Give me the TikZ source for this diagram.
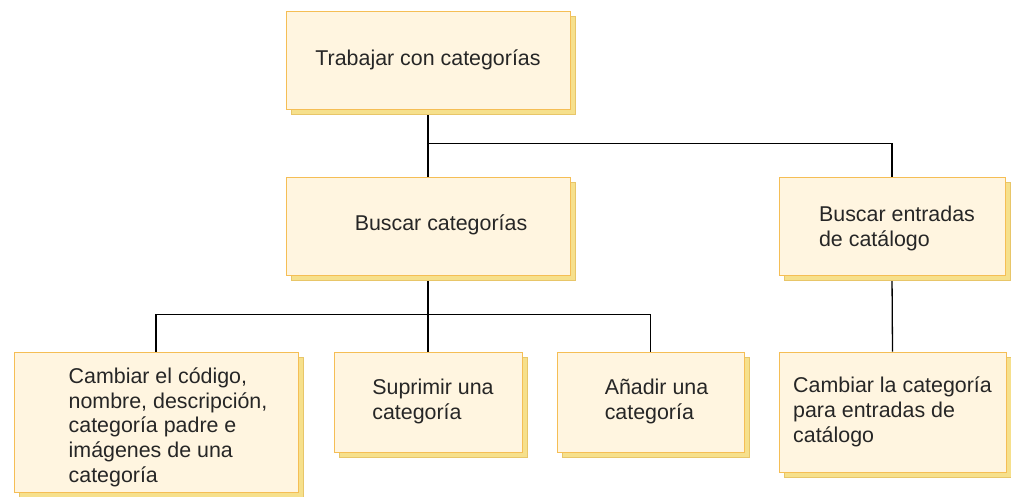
\documentclass[tikz,border=0pt]{standalone}
\usepackage{fontspec}
\setmainfont{Liberation Sans}
\usepackage{tikz}
\usetikzlibrary{shadows, backgrounds}
\definecolor{boxfill}{RGB}{255, 245, 224}
\definecolor{boxedge}{RGB}{245, 190, 85}
\definecolor{shadefill}{RGB}{246, 224, 140}
\definecolor{shadeedge}{RGB}{232, 198, 105}
\newcommand{\padleft}[3][0pt]{\raisebox{-#1}[\height][\depth]{\begin{tabular}{@{\hspace{#2}}l@{}}#3\end{tabular}}}

\begin{document}
\begin{tikzpicture}[
    x=1pt, y=-1pt,
    task/.style={rectangle, draw=boxedge, fill=boxfill, line width=1pt, minimum width=#1, align=left, inner sep=0pt,
      font=\fontsize{21.4}{24.7}\selectfont, text=black!85,
      copy shadow={shadow xshift=5pt, shadow yshift=-5pt, fill=shadefill, draw=shadeedge, line width=0.8pt}},
    task/.default=284pt,
    link/.style={draw=black, line width=1.3pt}
  ]
  \useasboundingbox (0,0) rectangle (1011,496);

  % Tasks
  \node[task, minimum height=98pt] (trabajar) at (428,60) {Trabajar con categorías};
  \node[task, minimum height=98pt] (buscar) at (428,226) {\padleft{26pt}{Buscar categorías}};
  \node[task=226pt, minimum height=98pt] (entradas) at (892,226) {\padleft[3pt]{10pt}{Buscar entradas\\de catálogo}};
  \node[task, minimum height=140pt] (cambiar) at (156,422) {\padleft[6pt]{24pt}{Cambiar el código,\\nombre, descripción,\\categoría padre e\\imágenes de una\\categoría}};
  \node[task=188pt, minimum height=100pt] (suprimir) at (428,402) {\padleft{10pt}{Suprimir una\\categoría}};
  \node[task=187pt, minimum height=100pt] (anadir) at (650.5,402) {\padleft{12pt}{Añadir una\\categoría}};
  \node[task=227pt, minimum height=120pt] (cambiarcat) at (892.5,412) {Cambiar la categoría\\para entradas de\\catálogo};

  % Links
  \begin{scope}[on background layer]
    \draw[link] (trabajar.south) -- (buscar.north);
    \draw[link] (trabajar.south) ++(0,34) -| (entradas.north);
    \draw[link] (buscar.south) -- (suprimir.north);
    \draw[link] (buscar.south) ++(0,39) -| (cambiar.north);
    \draw[link] (buscar.south) ++(0,39) -| (anadir.north);
    \draw[link] (entradas.south) -- (cambiarcat.north);
  \end{scope}

\end{tikzpicture}
\end{document}
